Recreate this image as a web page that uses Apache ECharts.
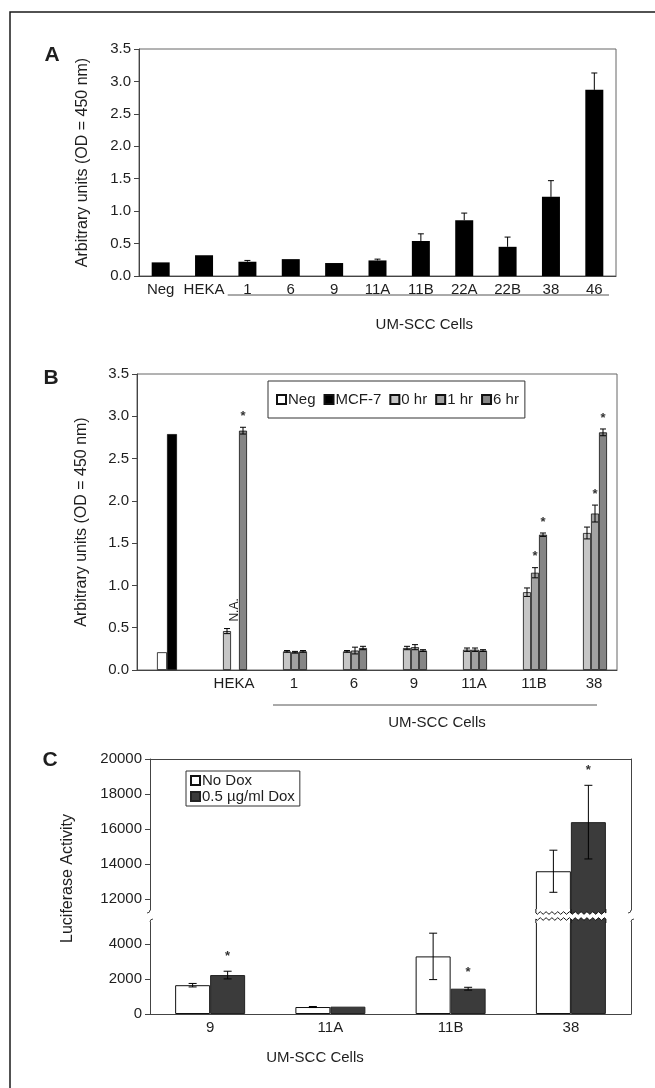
<!DOCTYPE html>
<html><head><meta charset="utf-8">
<script src="https://cdn.jsdelivr.net/npm/echarts@6/dist/echarts.min.js"></script>
<style>html,body{margin:0;padding:0;background:#fff}#c{width:655px;height:1088px}</style>
</head><body><div id="c"></div>
<script>
// ---------- Panel A data ----------
const catsA = ['Neg', 'HEKA', '1', '6', '9', '11A', '11B', '22A', '22B', '38', '46'];
const valsA = [0.21, 0.32, 0.22, 0.26, 0.20, 0.24, 0.54, 0.86, 0.45, 1.22, 2.87];
const errA  = [0, 0, 0.02, 0, 0, 0.02, 0.11, 0.11, 0.15, 0.25, 0.26];

// ---------- Panel B data ----------
const catsB = ['', 'HEKA', '1', '6', '9', '11A', '11B', '38'];
const negB  = [0.21, '-', '-', '-', '-', '-', '-', '-'];
const mcfB  = [2.79, '-', '-', '-', '-', '-', '-', '-'];
const hr0B  = ['-', 0.46, 0.22, 0.22, 0.26, 0.24, 0.92, 1.62];
const hr1B  = ['-', '-', 0.21, 0.23, 0.27, 0.24, 1.15, 1.85];
const hr6B  = ['-', 2.83, 0.22, 0.26, 0.23, 0.23, 1.60, 2.81];
const hr0ErrB = [0, 0.03, 0.01, 0.01, 0.02, 0.02, 0.05, 0.07];
const hr1ErrB = [0, 0, 0.01, 0.04, 0.03, 0.02, 0.06, 0.10];
const hr6ErrB = [0, 0.04, 0.01, 0.02, 0.01, 0.01, 0.02, 0.04];
const hr1StarB = [0, 0, 0, 0, 0, 0, 1, 1];
const hr6StarB = [0, 1, 0, 0, 0, 0, 1, 1];
const ticksAB = ['0.0', '0.5', '1.0', '1.5', '2.0', '2.5', '3.0', '3.5'];

// ---------- Panel C data ----------
const catsC   = ['9', '11A', '11B', '38'];
const noDoxC  = [1650, 400, 3300, 13600];
const doxC    = [2230, 420, 1450, 16400];
const noDoxErrC = [100, 30, 1330, 1200];
const doxErrC   = [220, 0, 80, 2100];
const doxStarC  = [1, 0, 1, 1];
const upperTicksC = [12000, 14000, 16000, 18000, 20000];
const lowerTicksC = [0, 2000, 4000];
const upperRangeC = [11390, 20000];
const lowerRangeC = [0, 5270];

const FONT = '"Liberation Sans", Arial, sans-serif';
const TXT = '#1e1e1e';
const AX = '#444';
const TICKFS = 15, NAMEFS = 16;
const chart = echarts.init(document.getElementById('c'), null, {renderer: 'canvas'});

function catAxis(grid, data, labelPad) {
  return {type: 'category', gridIndex: grid, data: data,
    axisLine: {lineStyle: {color: AX, width: 1}},
    axisTick: {length: 5, lineStyle: {color: AX}},
    axisLabel: {color: TXT, fontSize: TICKFS, fontFamily: FONT, margin: 6, interval: 0, padding: labelPad || 0}};
}
function valAxis(grid, min, max, extra) {
  return Object.assign({type: 'value', gridIndex: grid, min: min, max: max,
    splitLine: {show: false},
    axisLine: {show: true, lineStyle: {color: AX, width: 1}},
    axisTick: {show: true, length: 5, lineStyle: {color: AX}},
    nameTextStyle: {color: TXT, fontSize: NAMEFS, fontFamily: FONT}}, extra || {});
}
function lbl(extra) {
  return Object.assign({color: TXT, fontSize: TICKFS, fontFamily: FONT, margin: 8}, extra);
}
function errSeries(xi, yi, vals, errs, offset, cap, both, range) {
  const data = [];
  vals.forEach(function (v, i) {
    if (typeof v !== 'number' || !(errs[i] > 0)) return;
    if (range && (v + errs[i] < range[0] || v + errs[i] > range[1])) return;
    data.push([i, v, errs[i]]);
  });
  return {type: 'custom', xAxisIndex: xi, yAxisIndex: yi, data: data, silent: true, z: 5,
    renderItem: function (params, api) {
      const i = api.value(0), v = api.value(1), e = api.value(2);
      const x = api.coord([i, v])[0] + offset;
      const yTop = api.coord([i, v + e])[1];
      const yBot = both ? api.coord([i, v - e])[1] : api.coord([i, v])[1];
      const st = {stroke: '#000', lineWidth: 1};
      const ch = [
        {type: 'line', shape: {x1: x, y1: yTop, x2: x, y2: yBot}, style: st},
        {type: 'line', shape: {x1: x - cap, y1: yTop, x2: x + cap, y2: yTop}, style: st}];
      if (both) ch.push({type: 'line', shape: {x1: x - cap, y1: yBot, x2: x + cap, y2: yBot}, style: st});
      return {type: 'group', children: ch};
    }};
}
function starSeries(xi, yi, vals, errs, flags, offset, gap, keep) {
  const data = [];
  vals.forEach(function (v, i) {
    if (flags[i] && typeof v === 'number' && (!keep || keep(v))) data.push([i, v + (errs[i] || 0)]);
  });
  return {type: 'custom', xAxisIndex: xi, yAxisIndex: yi, data: data, silent: true, z: 6,
    renderItem: function (params, api) {
      const p = api.coord([api.value(0), api.value(1)]);
      return {type: 'text', x: p[0] + offset, y: p[1] - gap,
        style: {text: '*', fill: '#333', font: 'bold 13px ' + FONT, align: 'center', verticalAlign: 'middle'}};
    }};
}
function onlyIn(arr, r) { return arr.map(function (v) { return (v > r[0]) ? v : '-'; }); }

const barBorder = {borderColor: '#111', borderWidth: 0.8};
const plain = function (v) { return String(v); };

const option = {
  animation: false,
  textStyle: {fontFamily: FONT},
  grid: [
    {left: 139, top: 49, width: 477, height: 227, show: true, borderColor: '#666', borderWidth: 1},
    {left: 137, top: 374, width: 480, height: 296, show: true, borderColor: '#666', borderWidth: 1},
    {left: 150, top: 759, width: 481, height: 151},
    {left: 150, top: 922, width: 481, height: 92}
  ],
  legend: [
    {data: ['Neg', 'MCF-7', '0 hr', '1 hr', '6 hr'], left: 268, top: 381, orient: 'horizontal',
      padding: [11, 6, 11, 8], itemGap: 8, itemWidth: 9, itemHeight: 9, icon: 'rect',
      borderColor: '#333', borderWidth: 1, selectedMode: false,
      textStyle: {fontSize: 15, color: TXT, fontFamily: FONT, padding: [0, 0, 0, -3]}},
    {data: ['No Dox', '0.5 µg/ml Dox'], left: 186, top: 771, orient: 'vertical',
      padding: [2, 5, 2, 4], itemGap: 1, itemWidth: 9, itemHeight: 9, icon: 'rect',
      borderColor: '#333', borderWidth: 1, selectedMode: false,
      textStyle: {fontSize: 15, color: TXT, fontFamily: FONT, padding: [0, 0, 0, -3]}}
  ],
  xAxis: [
    catAxis(0, catsA),
    catAxis(1, catsB, [0, 0, 0, 14]),
    {type: 'category', gridIndex: 1, data: catsB, show: false},
    {type: 'category', gridIndex: 2, data: catsC, show: false},
    catAxis(3, catsC),
    {type: 'category', gridIndex: 2, data: catsC, position: 'top',
      axisLine: {lineStyle: {color: AX}}, axisTick: {show: false}, axisLabel: {show: false}}
  ],
  yAxis: [
    valAxis(0, 0, 3.5, {interval: 0.5, axisLabel: lbl({formatter: function (v) { return ticksAB[Math.round(v * 2)]; }}),
      name: 'Arbitrary units (OD = 450 nm)', nameLocation: 'middle', nameGap: 48}),
    valAxis(1, 0, 3.5, {interval: 0.5, axisLabel: lbl({formatter: function (v) { return ticksAB[Math.round(v * 2)]; }}),
      name: 'Arbitrary units (OD = 450 nm)', nameLocation: 'middle', nameGap: 47}),
    valAxis(2, upperRangeC[0], upperRangeC[1], {
      axisLabel: lbl({customValues: upperTicksC, formatter: plain}),
      axisTick: {show: true, length: 5, lineStyle: {color: AX}, customValues: upperTicksC}}),
    valAxis(3, lowerRangeC[0], lowerRangeC[1], {
      axisLabel: lbl({customValues: lowerTicksC, formatter: plain}),
      axisTick: {show: true, length: 5, lineStyle: {color: AX}, customValues: lowerTicksC}}),
    {type: 'value', gridIndex: 2, position: 'right', min: upperRangeC[0], max: upperRangeC[1],
      splitLine: {show: false}, axisLine: {show: true, lineStyle: {color: AX}}, axisTick: {show: false}, axisLabel: {show: false}},
    {type: 'value', gridIndex: 3, position: 'right', min: lowerRangeC[0], max: lowerRangeC[1],
      splitLine: {show: false}, axisLine: {show: true, lineStyle: {color: AX}}, axisTick: {show: false}, axisLabel: {show: false}}
  ],
  series: [
    // A
    {type: 'bar', name: 'A', xAxisIndex: 0, yAxisIndex: 0, data: valsA, barWidth: 18, itemStyle: {color: '#000'}},
    errSeries(0, 0, valsA, errA, 0, 3, false),
    // B
    {type: 'bar', name: 'Neg', xAxisIndex: 2, yAxisIndex: 1, data: negB, barWidth: 10, barGap: '0%',
      itemStyle: Object.assign({color: '#fff'}, barBorder)},
    {type: 'bar', name: 'MCF-7', xAxisIndex: 2, yAxisIndex: 1, data: mcfB, barWidth: 10, barGap: '0%',
      itemStyle: Object.assign({color: '#000'}, barBorder)},
    {type: 'bar', name: '_p1', xAxisIndex: 1, yAxisIndex: 1, data: [], barWidth: 8, barGap: '0%'},
    {type: 'bar', name: '_p2', xAxisIndex: 1, yAxisIndex: 1, data: [], barWidth: 8, barGap: '0%'},
    {type: 'bar', name: '0 hr', xAxisIndex: 1, yAxisIndex: 1, data: hr0B, barWidth: 8, barGap: '0%',
      itemStyle: Object.assign({color: '#c6c6c6'}, barBorder)},
    {type: 'bar', name: '1 hr', xAxisIndex: 1, yAxisIndex: 1, data: hr1B, barWidth: 8, barGap: '0%',
      itemStyle: Object.assign({color: '#a2a2a2'}, barBorder)},
    {type: 'bar', name: '6 hr', xAxisIndex: 1, yAxisIndex: 1, data: hr6B, barWidth: 8, barGap: '0%',
      itemStyle: Object.assign({color: '#858585'}, barBorder)},
    errSeries(1, 1, hr0B, hr0ErrB, 0, 3, true),
    errSeries(1, 1, hr1B, hr1ErrB, 8, 3, true),
    errSeries(1, 1, hr6B, hr6ErrB, 16, 3, true),
    starSeries(1, 1, hr1B, hr1ErrB, hr1StarB, 8, 11),
    starSeries(1, 1, hr6B, hr6ErrB, hr6StarB, 16, 11),
    // C lower
    {type: 'bar', name: 'No Dox', xAxisIndex: 4, yAxisIndex: 3, data: noDoxC, barWidth: 35, barGap: '0%',
      itemStyle: {color: '#fff', borderColor: '#111', borderWidth: 1}},
    {type: 'bar', name: '0.5 µg/ml Dox', xAxisIndex: 4, yAxisIndex: 3, data: doxC, barWidth: 35, barGap: '0%',
      itemStyle: {color: '#3b3b3b', borderColor: '#222', borderWidth: 1}},
    // C upper
    {type: 'bar', name: 'No Dox', xAxisIndex: 3, yAxisIndex: 2, data: onlyIn(noDoxC, upperRangeC), barWidth: 35, barGap: '0%',
      itemStyle: {color: '#fff', borderColor: '#111', borderWidth: 1}},
    {type: 'bar', name: '0.5 µg/ml Dox', xAxisIndex: 3, yAxisIndex: 2, data: onlyIn(doxC, upperRangeC), barWidth: 35, barGap: '0%',
      itemStyle: {color: '#3b3b3b', borderColor: '#222', borderWidth: 1}},
    errSeries(4, 3, noDoxC, noDoxErrC, -17.5, 4, true, lowerRangeC),
    errSeries(4, 3, doxC, doxErrC, 17.5, 4, true, lowerRangeC),
    errSeries(3, 2, noDoxC, noDoxErrC, -17.5, 4, true, upperRangeC),
    errSeries(3, 2, doxC, doxErrC, 17.5, 4, true, upperRangeC),
    starSeries(4, 3, doxC, doxErrC, doxStarC, 17.5, 15, function (v) { return v < lowerRangeC[1]; }),
    starSeries(3, 2, doxC, doxErrC, doxStarC, 17.5, 15, function (v) { return v > upperRangeC[0]; })
  ]
};
chart.setOption(option);

// ---------- annotations positioned from the axes ----------
function P(q, pt) { return chart.convertToPixel(q, pt); }
const g = [];
g.push({type: 'rect', shape: {x: 10, y: 12, width: 700, height: 1200}, style: {fill: 'transparent', stroke: '#1a1a1a', lineWidth: 1.5}, z: -10});
function txt(t, x, y, font, rot) {
  g.push({type: 'text', x: x, y: y, rotation: rot || 0,
    style: {text: t, font: font, fill: TXT, align: 'center', verticalAlign: 'middle'}});
}
const BOLD = 'bold 21px ' + FONT, REG = '15px ' + FONT;
// A
const a0 = P({gridIndex: 0}, [0, 0]), a1 = P({gridIndex: 0}, [1, 0]);
const wA = a1[0] - a0[0], leftA = a0[0] - wA / 2;
txt('A', leftA - 87, P({gridIndex: 0}, [0, 3.4])[1], BOLD);
const aL = P({gridIndex: 0}, [2, 0])[0] - wA / 2 + 2, aR = P({gridIndex: 0}, [10, 0])[0] + wA / 2 - 7;
g.push({type: 'line', shape: {x1: aL, y1: a0[1] + 19, x2: aR, y2: a0[1] + 19}, style: {stroke: '#555', lineWidth: 1}});
txt('UM-SCC Cells', (aL + aR) / 2 + 6, a0[1] + 49, REG);
// B
const b0 = P({gridIndex: 1}, [0, 0]), b1 = P({gridIndex: 1}, [1, 0]);
const wB = b1[0] - b0[0], leftB = b0[0] - wB / 2;
txt('B', leftB - 86, P({gridIndex: 1}, [0, 3.45])[1], BOLD);
const bL = P({gridIndex: 1}, [2, 0])[0] - 14, bR = P({gridIndex: 1}, [7, 0])[0] + 10;
g.push({type: 'line', shape: {x1: bL, y1: b0[1] + 35, x2: bR, y2: b0[1] + 35}, style: {stroke: '#555', lineWidth: 1}});
txt('UM-SCC Cells', (bL + bR) / 2 + 2, b0[1] + 53, REG);
const na = P({gridIndex: 1}, [1, 0.71]);
txt('N.A.', na[0] + 8, na[1], '12px ' + FONT, Math.PI / 2);
// C
const c0 = P({gridIndex: 3}, [0, 0]), c1 = P({gridIndex: 3}, [1, 0]);
const wC = c1[0] - c0[0], leftC = c0[0] - wC / 2, rightC = leftC + wC * catsC.length;
const cTop = P({gridIndex: 2}, [0, upperRangeC[1]])[1];
txt('C', leftC - 100, cTop + 1, BOLD);
txt('Luciferase Activity', 68, (cTop + c0[1]) / 2 - 8, '16px ' + FONT, Math.PI / 2);
txt('UM-SCC Cells', 315, c0[1] + 44, REG);
// axis break: wavy edges on the bars crossing the break
const yU = P({gridIndex: 2}, [0, upperRangeC[0]])[1];
const yL = P({gridIndex: 3}, [0, lowerRangeC[1]])[1];
function wave(x0, x1, yb, amp) {
  const pts = []; const n = 24;
  for (let k = 0; k <= n; k++) { const x = x0 + (x1 - x0) * k / n; pts.push([x, yb + amp * Math.sin(k * Math.PI / 2)]); }
  return pts;
}
noDoxC.forEach(function (v, i) {
  if (v <= lowerRangeC[1]) return;
  const cx = P({gridIndex: 3}, [i, 0])[0];
  [[cx - 35, cx, '#fff'], [cx, cx + 35, '#3b3b3b']].forEach(function (b) {
    const up = wave(b[0], b[1], yU + 3, 1.3);
    g.push({type: 'polygon', shape: {points: [[b[0], yU - 1]].concat(up, [[b[1], yU - 1]])}, style: {fill: b[2]}, z: 20});
    const lo = wave(b[0], b[1], yL - 3, 1.3);
    g.push({type: 'polygon', shape: {points: [[b[0], yL + 1]].concat(lo, [[b[1], yL + 1]])}, style: {fill: b[2]}, z: 20});
    g.push({type: 'polyline', shape: {points: [[b[0], yU - 1]].concat(up, [[b[1], yU - 1]])}, style: {stroke: '#111', lineWidth: 1, fill: null}, z: 21});
    g.push({type: 'polyline', shape: {points: [[b[0], yL + 1]].concat(lo, [[b[1], yL + 1]])}, style: {stroke: '#111', lineWidth: 1, fill: null}, z: 21});
  });
});
// small break hooks on the vertical axes
[leftC, rightC].forEach(function (x) {
  g.push({type: 'bezierCurve', shape: {x1: x, y1: yU, cpx1: x, cpy1: yU + 3, x2: x - 3, y2: yU + 3}, style: {stroke: AX, lineWidth: 1, fill: null}});
  g.push({type: 'bezierCurve', shape: {x1: x, y1: yL, cpx1: x, cpy1: yL - 3, x2: x + 3, y2: yL - 3}, style: {stroke: AX, lineWidth: 1, fill: null}});
});
chart.setOption({graphic: g});
</script>
</body></html>
